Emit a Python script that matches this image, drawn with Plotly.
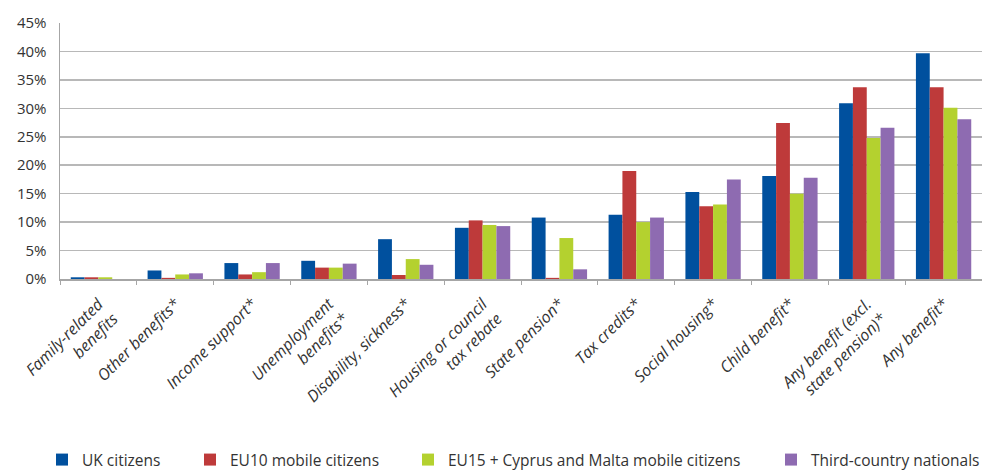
import plotly.graph_objects as go

categories = [
    "Family-related<br>benefits",
    "Other benefits*",
    "Income support*",
    "Unemployment<br>benefits*",
    "Disability, sickness*",
    "Housing or council<br>tax rebate",
    "State pension*",
    "Tax credits*",
    "Social housing*",
    "Child benefit*",
    "Any benefit (excl.<br>state pension)*",
    "Any benefit*",
]

uk_citizens = [0.3, 1.5, 2.8, 3.2, 7.0, 9.0, 10.8, 11.3, 15.3, 18.1, 30.9, 39.7]
eu10_mobile = [0.3, 0.2, 0.8, 2.0, 0.7, 10.3, 0.2, 19.0, 12.8, 27.4, 33.7, 33.7]
eu15_mobile = [0.3, 0.8, 1.2, 2.0, 3.5, 9.5, 7.2, 10.0, 13.1, 15.0, 24.8, 30.1]
third_country = [0.0, 1.0, 2.8, 2.7, 2.5, 9.3, 1.7, 10.8, 17.5, 17.8, 26.6, 28.1]

series_names = [
    "UK citizens",
    "EU10 mobile citizens",
    "EU15 + Cyprus and Malta mobile citizens",
    "Third-country nationals",
]
series_values = [uk_citizens, eu10_mobile, eu15_mobile, third_country]
colors = ["#00509E", "#BE3A3A", "#B4D12F", "#8E6BB1"]
legend_ids = ["legend", "legend2", "legend3", "legend4"]
legend_x_px = [42, 190, 408, 771]

W, H = 982, 470
FONT = "Open Sans"

fig = go.Figure()
for name, vals, col, lid in zip(series_names, series_values, colors, legend_ids):
    fig.add_trace(go.Bar(
        x=categories, y=vals, name=name, marker_color=col,
        marker_line_width=0, legend=lid, hoverinfo="skip",
    ))

layout_legends = {}
for lid, xp in zip(legend_ids, legend_x_px):
    layout_legends[lid] = dict(
        xref="container", yref="container",
        x=xp / W, y=1 - 460 / H, xanchor="left", yanchor="middle",
        orientation="h", font=dict(family=FONT, size=15.5, color="#333333"),
        bgcolor="rgba(0,0,0,0)", borderwidth=0,
        tracegroupgap=0, itemclick=False, itemdoubleclick=False,
    )

fig.update_layout(
    width=W, height=H,
    margin=dict(l=60, r=0, t=23, b=191, autoexpand=False),
    plot_bgcolor="white", paper_bgcolor="white",
    barmode="group", bargap=0.28, bargroupgap=0,
    showlegend=True,
    font=dict(family=FONT, size=15, color="#333333"),
    **layout_legends,
)

fig.update_yaxes(
    range=[0, 45], dtick=5, ticksuffix="%",
    showgrid=True, gridcolor="#B8B8B8", gridwidth=1.6,
    showline=True, linecolor="#A6A6A6", linewidth=1.5,
    ticks="", zeroline=False, automargin=False, ticklabelstandoff=9,
    tickfont=dict(family=FONT, size=15, color="#333333"),
)
fig.update_xaxes(
    type="category", tickangle=-45, automargin=False,
    showline=True, linecolor="#A6A6A6", linewidth=1.5,
    ticks="outside", tickson="boundaries", ticklen=4, tickcolor="#A6A6A6",
    ticklabelstandoff=8,
    tickfont=dict(family=FONT, size=16, color="#333333", style="italic"),
)

fig.write_html(
    "out.html",
    config={"displayModeBar": False, "staticPlot": True},
    post_script="document.body.style.margin='0';document.body.style.overflow='hidden';",
)
